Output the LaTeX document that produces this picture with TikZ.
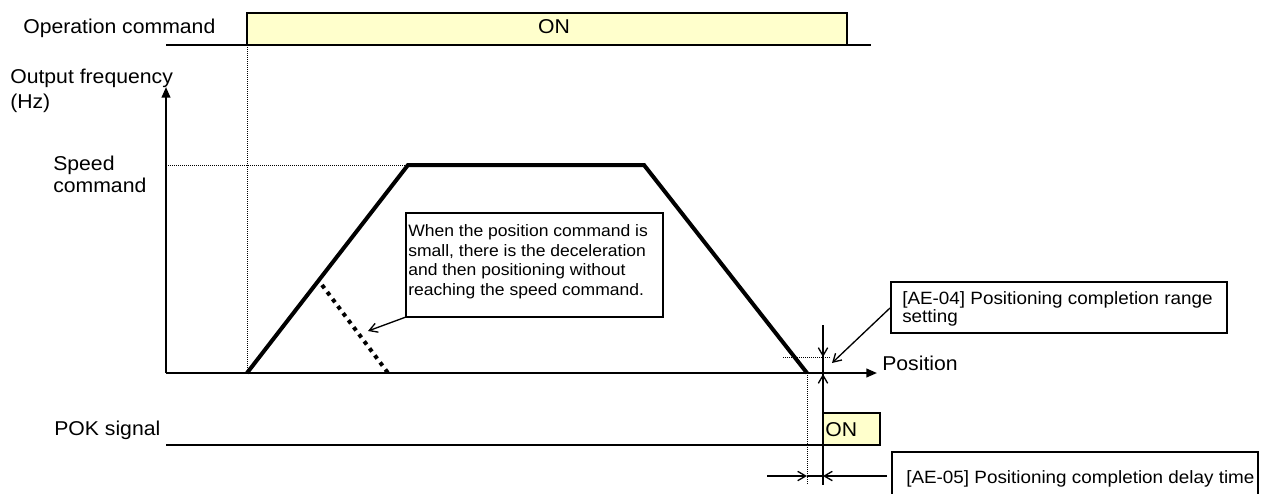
\documentclass[tikz,border=0pt]{standalone}
\usepackage{fontspec}
\setmainfont{Liberation Sans}[FakeStretch=1.06]
\usetikzlibrary{arrows.meta}
\definecolor{onyellow}{HTML}{FFFFCC}
\begin{document}
\begin{tikzpicture}[x=0.75pt,y=-0.75pt,
  lbl/.style={inner sep=0pt, font=\fontsize{15}{18}\selectfont},
  small/.style={inner sep=0pt, font=\fontsize{13.35}{13.5}\selectfont},
  note/.style={inner sep=0pt, font=\fontsize{12.4}{14.8}\selectfont},
  boxline/.style={draw=black, line width=1.3pt},
  sig/.style={line width=1.5pt},
  axisline/.style={line width=1.5pt, -{Triangle[length=8pt,width=6.5pt]}},
  dotl/.style={line width=0.6pt, dash pattern=on 0.75pt off 0.75pt},
  trap/.style={line width=3pt, line join=miter},
  dotthick/.style={line width=3pt, dash pattern=on 3pt off 3.6pt},
  thinl/.style={line width=1pt},
  barb/.style={-{Straight Barb[length=6pt,width=7pt]}}
]
\useasboundingbox (0,0) rectangle (1266,493);

% ---------- coordinates ----------
\coordinate (opL) at (166,45);
\coordinate (opR) at (871,45);
\coordinate (opBoxA) at (247,13);
\coordinate (opBoxB) at (847,45);
\coordinate (start) at (247,373);
\coordinate (origin) at (166,373);
\coordinate (ytip) at (166,87);
\coordinate (xtip) at (877,373);
\coordinate (spd) at (166,165);
\coordinate (tl) at (408,165);
\coordinate (tr) at (644,165);
\coordinate (stop) at (807,373);
\coordinate (dA) at (322,285);
\coordinate (dB) at (388,373);
\coordinate (stopLow) at (807,485);
\coordinate (rngL) at (783,357);
\coordinate (rngR) at (830,357);
\coordinate (vTop) at (823,325);
\coordinate (vRng) at (823,357);
\coordinate (vAx) at (823,374);
\coordinate (vMid) at (823,420);
\coordinate (vBot) at (823,485);
\coordinate (pokL) at (166,445);
\coordinate (pokR) at (823,445);
\coordinate (onA) at (823,413);
\coordinate (onB) at (880,445);
\coordinate (dlyL) at (767,476);
\coordinate (dly1) at (807,476);
\coordinate (dly2) at (823,476);
\coordinate (dlyR) at (887,476);
\coordinate (calA) at (406,213);
\coordinate (calB) at (663,317);
\coordinate (calTip) at (368,331);
\coordinate (ae4A) at (891,282);
\coordinate (ae4B) at (1227,333);
\coordinate (ae4From) at (890,308);
\coordinate (ae4Tip) at (832,363);
\coordinate (ae5A) at (892,452);
\coordinate (ae5B) at (1258,500);

% ---------- operation command ----------
\fill[onyellow] (opBoxA) rectangle (opBoxB);
\draw[boxline] (opBoxA) rectangle (opBoxB);
\draw[sig] (opL) -- (opR);
\node[lbl, anchor=base west] (opcmd) at (23,33) {Operation command};
\node[lbl, anchor=base] (on1) at (554,33) {ON};

% ---------- graph ----------
\draw[dotl] (opBoxA |- opL) -- (start);
\draw[dotl] (spd) -- (tl);
\draw[axisline] (origin) -- (ytip);
\draw[axisline] (origin) -- (xtip);
\draw[trap] (start) -- (tl) -- (tr) -- (stop);
\draw[dotthick] (dA) -- (dB);
\draw[dotl] (stop) -- (stopLow);
\draw[dotl] (rngL) -- (rngR);

\node[lbl, anchor=north west, align=left, font=\fontsize{15}{18.75}\selectfont] (ofreq) at (10,68.5) {Output frequency\\(Hz)};
\node[lbl, anchor=north west, align=left, font=\fontsize{15}{16.5}\selectfont] (speed) at (53,155.7) {Speed\\command};
\node[lbl, anchor=base west] (pos) at (882,370) {Position};

% ---------- POK ----------
\fill[onyellow] (onA) rectangle (onB);
\draw[boxline] (onA) rectangle (onB);
\draw[sig] (pokL) -- (pokR);
\draw[line width=1.2pt] (vTop) -- (vBot);
\draw[thinl, barb] (vTop) -- (vRng);
\draw[thinl, barb] (vMid) -- (vAx);
\node[lbl, anchor=base west] (pok) at (54,435) {POK signal};
\node[lbl, anchor=base west] (on2) at (825,436) {ON};

\draw[thinl, barb] (dlyL) -- (dly1);
\draw[thinl, barb] (dlyR) -- (dly2);
\draw[line width=1.5pt] (dly1) -- (dly2);

% ---------- callouts ----------
\draw[boxline] (calA) rectangle (calB);
\node[note, anchor=north west, align=left] (calText) at (408,224.2)
  {When the position command is\\small, there is the deceleration\\and then positioning without\\reaching the speed command.};
\draw[thinl, barb] (calA |- calB) -- (calTip);

\draw[boxline] (ae4A) rectangle (ae4B);
\node[small, anchor=north west, align=left] (ae4) at (902,291)
  {[AE-04] Positioning completion range\\setting};
\draw[thinl, barb] (ae4From) -- (ae4Tip);

\draw[boxline] (ae5A) rectangle (ae5B);
\node[small, anchor=base west] (ae5) at (906,483) {[AE-05] Positioning completion delay time};
\end{tikzpicture}
\end{document}
